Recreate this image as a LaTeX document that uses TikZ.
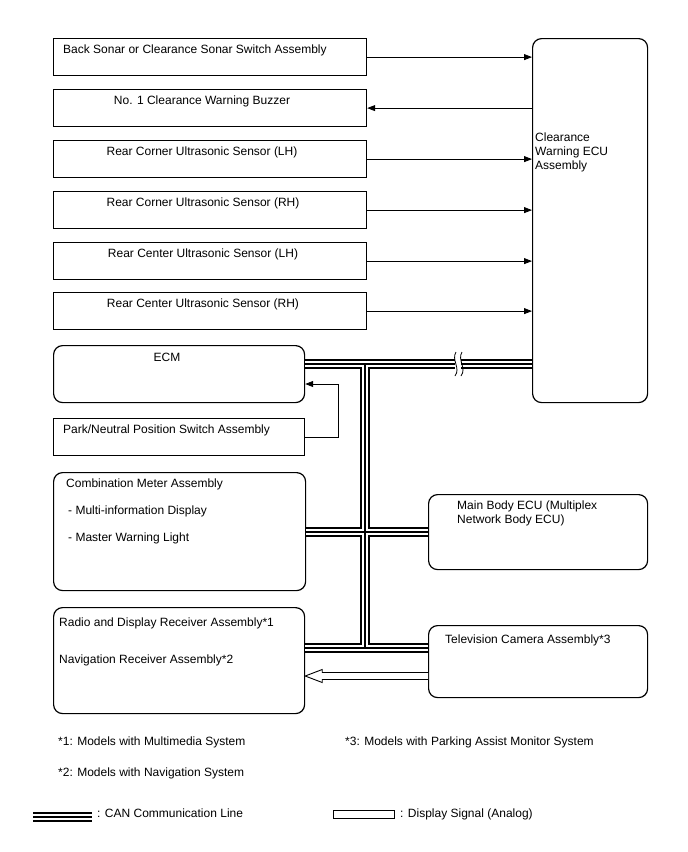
\documentclass[tikz,border=0pt]{standalone}
\usepackage{fontspec}
\setmainfont{Liberation Sans}
\usepackage{tikz}
\usetikzlibrary{positioning,arrows.meta,calc}

\begin{document}
\begin{tikzpicture}[x=1pt, y=-1pt,
  font=\fontsize{12}{14}\selectfont,
  unit/.style={draw, line width=1.2pt, anchor=north west, inner sep=0pt},
  runit/.style={unit, rounded corners=9pt},
  lbl/.style={inner sep=0pt, anchor=base west},
  clbl/.style={inner sep=0pt, anchor=base},
  sig/.style={-{Triangle[length=8pt,width=6pt]}, line width=0.8pt},
  dsig/.style={line width=0.9pt, fill=white}]
  \useasboundingbox (0,0) rectangle (688,852);

  % sensor and switch boxes on the left
  \node[unit, minimum width=313pt, minimum height=37pt] (sonar) at (53,38) {};
  \node[unit, minimum width=313pt, minimum height=37pt] (buzzer) at (53,89) {};
  \node[unit, minimum width=313pt, minimum height=37pt] (rclh) at (53,140) {};
  \node[unit, minimum width=313pt, minimum height=37pt] (rcrh) at (53,191) {};
  \node[unit, minimum width=313pt, minimum height=37pt] (rmlh) at (53,242) {};
  \node[unit, minimum width=313pt, minimum height=37pt] (rmrh) at (53,292) {};
  \node[lbl] (sonar-t) at (63,53) {Back Sonar or Clearance Sonar Switch Assembly};
  \node[clbl] (buzzer-t) at (202,104) {No. 1 Clearance Warning Buzzer};
  \node[clbl] (rclh-t) at (202,155) {Rear Corner Ultrasonic Sensor (LH)};
  \node[clbl] (rcrh-t) at (203,206) {Rear Corner Ultrasonic Sensor (RH)};
  \node[clbl] (rmlh-t) at (203,257) {Rear Center Ultrasonic Sensor (LH)};
  \node[clbl] (rmrh-t) at (203,307) {Rear Center Ultrasonic Sensor (RH)};

  % clearance warning ECU
  \node[runit, minimum width=115pt, minimum height=364pt] (ecu) at (532,38) {};
  \node[lbl, align=left] (ecu-t) at (535,169) {Clearance\\Warning ECU\\Assembly};

  % CAN side
  \node[runit, minimum width=251pt, minimum height=57pt] (ecm) at (53,345) {};
  \node[clbl] (ecm-t) at (167,361) {ECM};
  \node[unit, minimum width=251pt, minimum height=37pt] (park) at (53,418) {};
  \node[lbl] (park-t) at (63,433) {Park/Neutral Position Switch Assembly};
  \node[runit, minimum width=252pt, minimum height=118pt] (comb) at (53,472) {};
  \node[lbl] (comb-t1) at (66,487) {Combination Meter Assembly};
  \node[lbl] (comb-t2) at (68,514) {- Multi-information Display};
  \node[lbl] (comb-t3) at (68,541) {- Master Warning Light};
  \node[runit, minimum width=251pt, minimum height=106pt] (radio) at (53,607) {};
  \node[lbl] (radio-t1) at (59,626) {Radio and Display Receiver Assembly*1};
  \node[lbl] (radio-t2) at (59,663) {Navigation Receiver Assembly*2};
  \node[runit, minimum width=219pt, minimum height=75pt] (main) at (428,494) {};
  \node[lbl, align=left] (main-t) at (457,523) {Main Body ECU (Multiplex\\Network Body ECU)};
  \node[runit, minimum width=219pt, minimum height=72pt] (tv) at (428,625) {};
  \node[lbl] (tv-t) at (445,643) {Television Camera Assembly*3};

  % signal lines to and from the ECU
  \draw[sig] (sonar.east) -- (ecu.west |- sonar.east);
  \draw[sig] (ecu.west |- buzzer.east) -- (buzzer.east);
  \draw[sig] (rclh.east) -- (ecu.west |- rclh.east);
  \draw[sig] (rcrh.east) -- (ecu.west |- rcrh.east);
  \draw[sig] (rmlh.east) -- (ecu.west |- rmlh.east);
  \draw[sig] (rmrh.east) -- (ecu.west |- rmrh.east);
  \coordinate (pnbend) at (338,384);
  \draw[sig] (park.east) -| (pnbend) -- (ecm.east |- pnbend);

  % CAN bus
  \coordinate (jtop) at (365,364);
  \coordinate (jmid) at (365,532);
  \coordinate (jbot) at (365,648);
  \coordinate (lcan-a) at (33,817);
  \coordinate (lcan-b) at (92,817);
  \foreach \w/\c in {10pt/black, 6pt/white, 1.4pt/black}
    \draw[line width=\w, \c] (ecm.east |- jtop) -- (ecu.west |- jtop)
      (jtop) -- (jbot)
      (comb.east |- jmid) -- (main.west |- jmid)
      (radio.east |- jbot) -- (tv.west |- jbot)
      (lcan-a) -- (lcan-b);
  \fill[white] (455,357) rectangle (461,371);
  \draw[line width=0.8pt] (456,352) .. controls (451,360) and (461,368) .. (455,376);
  \draw[line width=0.8pt] (462,352) .. controls (457,360) and (467,368) .. (461,376);

  % display signal
  \coordinate (dy) at (0,676);
  \draw[dsig] ($(tv.west |- dy)+(0,-3.5)$) -- ($(radio.east |- dy)+(17,-3.5)$)
    -- ($(radio.east |- dy)+(17,-6.5)$) -- (radio.east |- dy)
    -- ($(radio.east |- dy)+(17,6.5)$) -- ($(radio.east |- dy)+(17,3.5)$)
    -- ($(tv.west |- dy)+(0,3.5)$);

  % notes and legend
  \node[lbl] (fn1) at (58,745) {*1: Models with Multimedia System};
  \node[lbl] (fn3) at (345,745) {*3: Models with Parking Assist Monitor System};
  \node[lbl] (fn2) at (58,776) {*2: Models with Navigation System};
  \node[lbl] (lcan-t) at (97,817) {: CAN Communication Line};
  \node[unit, line width=0.9pt, minimum width=61pt, minimum height=8pt] (ldisp) at (333,810) {};
  \node[lbl] (ldisp-t) at (400,817) {: Display Signal (Analog)};
\end{tikzpicture}
\end{document}
